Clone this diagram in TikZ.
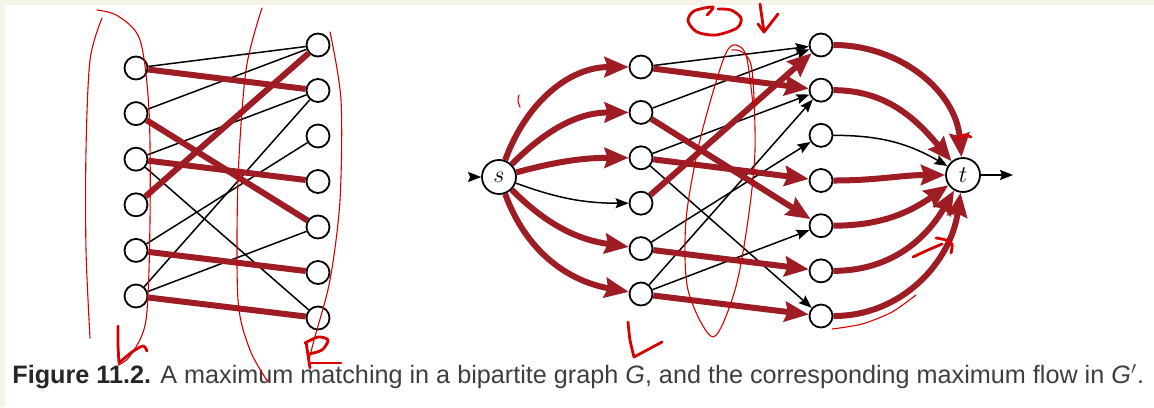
\documentclass[tikz,border=0pt]{standalone}
\usepackage{fontspec}
\newfontfamily\capfont{Liberation Sans}
\usetikzlibrary{arrows.meta}

\definecolor{flowred}{RGB}{158,28,36}
\definecolor{inkred}{RGB}{214,0,0}
\definecolor{paper}{RGB}{246,243,232}
\definecolor{captext}{RGB}{62,62,62}

\tikzset{
  vtx/.style={circle, draw, line width=0.9pt, minimum size=11.5pt, inner sep=0pt, fill=white},
  term/.style={vtx, minimum size=17pt, font=\fontsize{13}{13}\selectfont},
  thin edge/.style={line width=0.75pt},
  match edge/.style={line width=3pt, draw=flowred},
  flow arc/.style={match edge, -{Stealth[length=12pt,width=10pt,inset=1.5pt]}},
  plain arc/.style={thin edge, -{Stealth[length=6.5pt,width=5pt,inset=1pt]}},
  ink/.style={draw=inkred, line width=0.55pt, line cap=round},
  inkpen/.style={draw=inkred, line width=1.4pt, line cap=round, line join=round},
}

\begin{document}
\begin{tikzpicture}[x=0.5pt,y=-0.5pt]
\useasboundingbox (0,0) rectangle (1154,407);
\fill[paper] (0,0) rectangle (1154,5);
\fill[paper] (0,0) rectangle (5,407);

% --- BIPARTITE GRAPH G ---
\foreach \i in {1,...,6} {
  \node[vtx] (la\i) at (136,{68+45.6*(\i-1)}) {};
}
\foreach \i in {1,...,7} {
  \node[vtx] (ra\i) at (318,{45+45.5*(\i-1)}) {};
}
\foreach \a/\b in {1/1,2/1,3/2,3/7,5/3,6/2,6/5} {
  \draw[thin edge] (la\a) -- (ra\b);
}
\foreach \a/\b in {1/2,2/5,3/4,4/1,5/6,6/7} {
  \draw[match edge] (la\a) -- (ra\b);
}

% --- FLOW NETWORK G' ---
\node[term] (s) at (499,177) {$s$};
\node[term] (t) at (963,175) {$t$};
\foreach \i in {1,...,6} {
  \node[vtx] (lb\i) at (641,{67+45.4*(\i-1)}) {};
}
\foreach \i in {1,...,7} {
  \node[vtx] (rb\i) at (821,{45+45.17*(\i-1)}) {};
}
\coordinate (sin) at (474,177);
\coordinate (tout) at (1013,175);
\draw[plain arc] (sin) -- (s);
\draw[plain arc] (t) -- (tout);

% source arcs
\foreach \i/\o/\n in {1/70/180,2/45/180,3/15/180,5/-45/172,6/-70/170} {
  \draw[flow arc] (s) to[out=\o,in=\n] (lb\i);
}
\draw[plain arc] (s) to[out=-20,in=180] (lb4);

% middle arcs
\foreach \a/\b in {1/1,2/1,3/2,3/7,5/3,6/2,6/5} {
  \draw[plain arc] (lb\a) -- (rb\b);
}
\foreach \a/\b in {1/2,2/5,3/4,4/1,5/6,6/7} {
  \draw[flow arc] (lb\a) -- (rb\b);
}

% sink arcs
\foreach \i/\n in {1/95,2/130,4/180,5/215,6/240,7/262} {
  \draw[flow arc] (rb\i) to[out=0,in=\n] (t);
}
\draw[plain arc] (rb3) to[out=0,in=150] (t);

% --- CAPTION ---
\node[anchor=base west, inner sep=0pt, text=captext,
      font=\capfont\fontsize{12.6}{14}\selectfont] (caption) at (12,383)
  {\textbf{\color{black!85}Figure 11.2.} A maximum matching in a bipartite graph \textit{G}, and the corresponding maximum flow in \textit{G}$'$.};

% --- HAND NOTES ---
\draw[ink] plot[smooth] coordinates {(97,10) (118,16) (140,40) (149,110) (150,220) (146,320) (130,356) (118,365)};
\draw[ink] plot[smooth] coordinates {(90,338) (86,250) (86,150) (90,60) (102,18)};
\draw[ink] plot[smooth] coordinates {(262,8) (246,70) (238,180) (238,300) (250,350) (268,382)};
\draw[ink] plot[smooth] coordinates {(330,32) (341,100) (340,200) (330,280) (314,340) (309,360)};
\draw[ink] plot[smooth] coordinates {(753,105) (746,55) (733,45) (722,63) (700,140) (686,220) (688,290) (713,337) (735,290) (748,220) (755,150) (752,70) (742,52) (732,50)};
\draw[ink] plot[smooth] coordinates {(519,95) (518,101) (520,107)};
\draw[ink] plot[smooth] coordinates {(832,329) (862,324) (892,312) (916,295)};
\draw[inkpen] plot[smooth] coordinates {(958,139) (964,135) (971,137)};
\draw[inkpen] plot[smooth] coordinates {(913,257) (928,250) (942,244)};
\draw[inkpen] plot[smooth] coordinates {(936,238) (946,240) (952,244) (951,253)};
\draw[inkpen] plot[smooth] coordinates {(707,15) (713,7) (694,11) (688,21) (697,32) (716,35) (737,28) (741,18) (731,10) (718,9)};
\draw[inkpen] plot[smooth] coordinates {(760,4) (762,18) (764,32)};
\draw[inkpen] (758,24) -- (764,32) -- (778,14);
\draw[inkpen] plot[smooth] coordinates {(118,326) (118,345) (119,363)};
\draw[inkpen] plot[smooth] coordinates {(120,362) (132,352) (143,346) (147,351)};
\draw[inkpen] plot[smooth] coordinates {(306,342) (308,355) (310,368)};
\draw[inkpen] plot[smooth] coordinates {(305,343) (318,337) (328,340) (322,350) (309,354)};
\draw[inkpen] (310,363) -- (341,363);
\draw[inkpen] plot[smooth] coordinates {(628,322) (630,340) (634,357)};
\draw[inkpen] (634,357) -- (662,342);
\end{tikzpicture}
\end{document}
